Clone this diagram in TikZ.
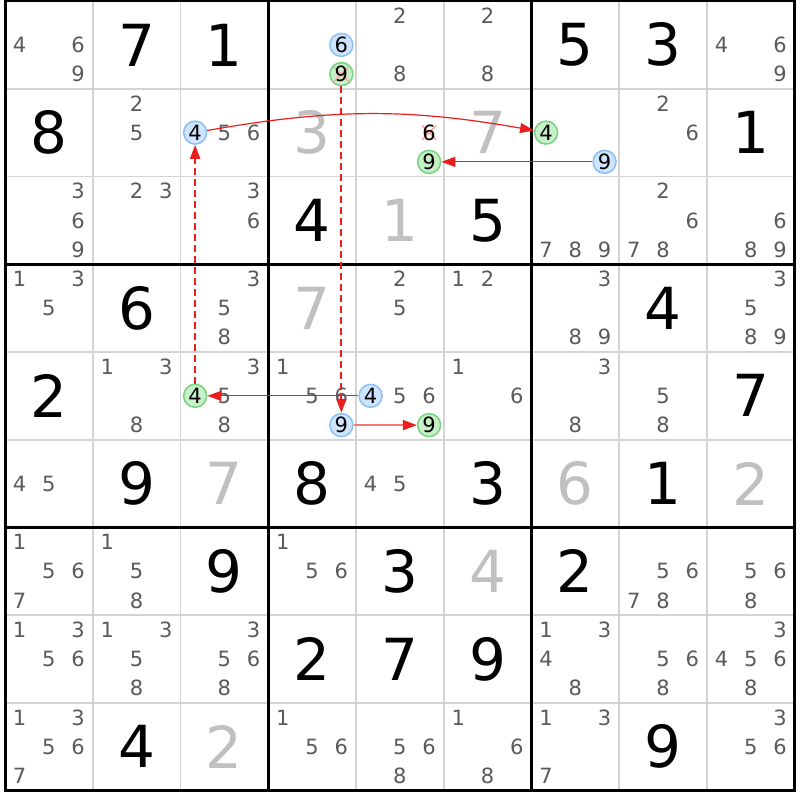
\documentclass[tikz,border=0pt]{standalone}
\usepackage{fontspec}
\setmainfont{DejaVu Sans}
\usetikzlibrary{arrows.meta}
\definecolor{candgray}{RGB}{90,90,90}
\definecolor{lightgiven}{RGB}{192,192,192}
\definecolor{gridgray}{RGB}{212,212,212}
\definecolor{bluefill}{RGB}{206,228,255}
\definecolor{blueedge}{RGB}{140,192,242}
\definecolor{greenfill}{RGB}{200,240,200}
\definecolor{greenedge}{RGB}{118,210,128}
\definecolor{crossred}{RGB}{255,165,165}
\definecolor{linkred}{RGB}{235,30,30}
\newcommand{\candxy}[3]{%
    \pgfmathsetmacro{\candx}{#2-1+(mod(#3-1,3)+0.5)/3}%
    \pgfmathsetmacro{\candy}{#1-1+(floor((#3-1)/3)+0.5)/3}%
}
\tikzset{
    thin grid/.style={gridgray, line width=1.6pt},
    box line/.style={black, line width=3pt},
    given/.style={inner sep=0pt, font=\fontsize{58}{60}\selectfont},
    light given/.style={given, lightgiven},
    cand/.style={inner sep=2pt, candgray, font=\fontsize{21}{24}\selectfont},
    elim/.style={
            path picture={
                    \draw[crossred, line width=1.5pt]
                        ([shift={(-7pt,-7pt)}]path picture bounding box.center) -- ([shift={(7pt,7pt)}]path picture bounding box.center)
                        ([shift={(-7pt,7pt)}]path picture bounding box.center) -- ([shift={(7pt,-7pt)}]path picture bounding box.center);
                }
        },
    bluecand/.style={circle, minimum size=23pt, inner sep=0pt, fill=bluefill, draw=blueedge, line width=1.5pt, text=black, font=\fontsize{21}{24}\selectfont},
    greencand/.style={bluecand, fill=greenfill, draw=greenedge},
    greenx/.style={greencand, elim},
    plainx/.style={cand, text=black, fill=white, elim},
    tip/.style={-{Triangle[length=14pt, width=10pt, color=linkred]}},
    link dash/.style={tip, draw=linkred, line width=2pt, dash pattern=on 7pt off 4pt},
    link curve/.style={tip, draw=linkred, line width=1.2pt},
    link thin/.style={tip, draw=linkred, line width=1pt},
    link light/.style={tip, draw=linkred!60, line width=1.6pt},
}
\begin{document}
\begin{tikzpicture}[x=87.75pt, y=-87.75pt]
        %page and margins
        \fill[white] (-0.057, -0.0114) rectangle (9.06, 9.106);
        \useasboundingbox (-0.057, -0.0114) rectangle (9.06, 9.106);
        %draw cell lines
        \foreach \i in {1, 2, 4, 5, 7, 8} {
                \draw[thin grid] (\i, 0) -- (\i, 9);
                \draw[thin grid] (0, \i) -- (9, \i);
            }
        %draw box lines
        \foreach \i in {3, 6} {
                \draw[box line] (\i, 0) -- (\i, 9);
                \draw[box line] (0, \i) -- (9, \i);
            }
        \draw[box line] (0, 0) rectangle (9, 9);
        %givens
        \foreach \r/\c/\d in {1/2/7, 1/3/1, 1/7/5, 1/8/3, 2/1/8, 2/9/1, 3/4/4, 3/6/5, 4/2/6, 4/8/4, 5/1/2, 5/9/7, 6/2/9, 6/4/8, 6/6/3, 6/8/1, 7/3/9, 7/5/3, 7/7/2, 8/4/2, 8/5/7, 8/6/9, 9/2/4, 9/8/9}
        \node[given] (g\r\c) at (\c-0.5, \r-0.5) {\d};
        %entered digits
        \foreach \r/\c/\d in {2/4/3, 2/6/7, 3/5/1, 4/4/7, 6/3/7, 6/7/6, 6/9/2, 7/6/4, 9/3/2}
        \node[light given] (g\r\c) at (\c-0.5, \r-0.5) {\d};
        %candidates
        \foreach \r/\c/\ds in {1/1/{4,6,9}, 1/5/{2,8}, 1/6/{2,8}, 1/9/{4,6,9},
                2/2/{2,5}, 2/3/{5,6}, 2/8/{2,6},
                3/1/{3,6,9}, 3/2/{2,3}, 3/3/{3,6}, 3/7/{7,8,9}, 3/8/{2,6,7,8}, 3/9/{6,8,9},
                4/1/{1,3,5}, 4/3/{3,5,8}, 4/5/{2,5}, 4/6/{1,2}, 4/7/{3,8,9}, 4/9/{3,5,8,9},
                5/2/{1,3,8}, 5/3/{3,5,8}, 5/4/{1,5,6}, 5/5/{5,6}, 5/6/{1,6}, 5/7/{3,8}, 5/8/{5,8},
                6/1/{4,5}, 6/5/{4,5},
                7/1/{1,5,6,7}, 7/2/{1,5,8}, 7/4/{1,5,6}, 7/8/{5,6,7,8}, 7/9/{5,6,8},
                8/1/{1,3,5,6}, 8/2/{1,3,5,8}, 8/3/{3,5,6,8}, 8/7/{1,3,4,8}, 8/8/{5,6,8}, 8/9/{3,4,5,6,8},
                9/1/{1,3,5,6,7}, 9/4/{1,5,6}, 9/5/{5,6,8}, 9/6/{1,6,8}, 9/7/{1,3,7}, 9/9/{3,5,6}}
        \foreach \d in \ds {
                \candxy{\r}{\c}{\d}
                \node[cand] (n\r\c\d) at (\candx, \candy) {\d};
            }
        %marked candidates
        \foreach \r/\c/\d/\kind in {1/4/6/bluecand, 1/4/9/greenx, 2/3/4/bluecand, 2/5/6/plainx, 2/5/9/greencand,
                2/7/4/greencand, 2/7/9/bluecand, 5/3/4/greencand, 5/4/9/bluecand, 5/5/4/bluecand, 5/5/9/greencand} {
                \candxy{\r}{\c}{\d}
                \node[\kind] (n\r\c\d) at (\candx, \candy) {\d};
            }
        %chain links
        \draw[link dash] (n534) -- (n234);
        \draw[link curve] (n234) to[bend left=10] (n274);
        \draw[link thin] (n279) -- (n259);
        \draw[link dash] (n149) -- (n549);
        \draw[link light] (n549) -- (n559);
        \draw[link thin] (n554) -- (n534);
    \end{tikzpicture}
\end{document}
